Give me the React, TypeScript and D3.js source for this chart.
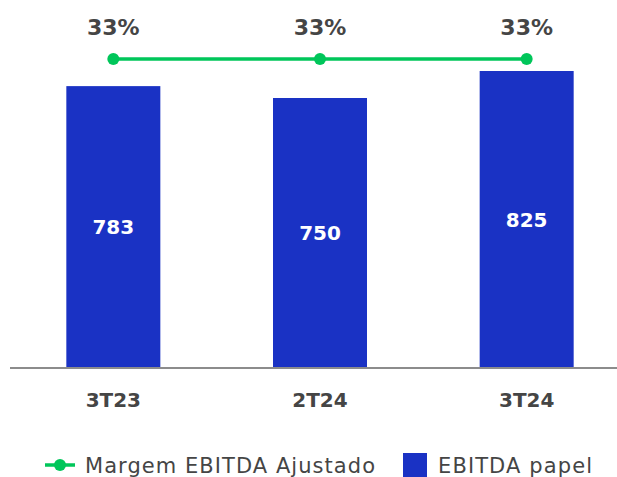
import React, { useEffect, useRef } from "react";
import * as d3 from "d3";

const categories = ["3T23", "2T24", "3T24"];
const ebitdaValues = [783, 750, 825];
const marginValues = [33, 33, 33];
const legendLabels = ["Margem EBITDA Ajustado", "EBITDA papel"];

const BAR_COLOR = "#1a32c4";
const LINE_COLOR = "#00c65a";
const TEXT_COLOR = "#454545";
const FONT = "'DejaVu Sans', sans-serif";

export default function App() {
  const ref = useRef<SVGSVGElement>(null);

  useEffect(() => {
    const width = 617,
      height = 477,
      baseline = 368;

    const svg = d3.select(ref.current);
    svg.selectAll("*").remove();

    const x = d3.scalePoint<string>().domain(categories).range([10, 630]).padding(0.5);
    const barWidth = 94;

    const y = d3.scaleLinear().domain([0, 825]).range([baseline, 71]);
    const yLine = d3.scaleLinear().domain([0, 33]).range([baseline, 59]);

    // bars
    svg
      .selectAll("rect.bar")
      .data(ebitdaValues)
      .enter()
      .append("rect")
      .attr("class", "bar")
      .attr("x", (d, i) => x(categories[i])! - barWidth / 2)
      .attr("y", (d) => y(d))
      .attr("width", barWidth)
      .attr("height", (d) => baseline - y(d))
      .attr("fill", BAR_COLOR);

    // value labels inside bars
    svg
      .selectAll("text.val")
      .data(ebitdaValues)
      .enter()
      .append("text")
      .attr("x", (d, i) => x(categories[i])!)
      .attr("y", (d) => (y(d) + baseline) / 2)
      .attr("dy", "0.36em")
      .attr("text-anchor", "middle")
      .attr("fill", "#fff")
      .attr("font-family", FONT)
      .attr("font-weight", 700)
      .attr("font-size", 20)
      .text((d) => d);

    // axis line
    svg
      .append("line")
      .attr("x1", 10)
      .attr("x2", width)
      .attr("y1", baseline)
      .attr("y2", baseline)
      .attr("stroke", "#8c8c8c")
      .attr("stroke-width", 2);

    // category labels
    svg
      .selectAll("text.cat")
      .data(categories)
      .enter()
      .append("text")
      .attr("x", (d) => x(d)!)
      .attr("y", 407)
      .attr("text-anchor", "middle")
      .attr("fill", TEXT_COLOR)
      .attr("font-family", FONT)
      .attr("font-weight", 700)
      .attr("font-size", 20)
      .text((d) => d);

    // margin line
    const line = d3
      .line<number>()
      .x((d, i) => x(categories[i])!)
      .y((d) => yLine(d));

    svg
      .append("path")
      .attr("d", line(marginValues))
      .attr("fill", "none")
      .attr("stroke", LINE_COLOR)
      .attr("stroke-width", 3.5);

    svg
      .selectAll("circle.pt")
      .data(marginValues)
      .enter()
      .append("circle")
      .attr("cx", (d, i) => x(categories[i])!)
      .attr("cy", (d) => yLine(d))
      .attr("r", 6)
      .attr("fill", LINE_COLOR);

    svg
      .selectAll("text.pct")
      .data(marginValues)
      .enter()
      .append("text")
      .attr("x", (d, i) => x(categories[i])!)
      .attr("y", (d) => yLine(d) - 24)
      .attr("text-anchor", "middle")
      .attr("fill", TEXT_COLOR)
      .attr("font-family", FONT)
      .attr("font-weight", 700)
      .attr("font-size", 22)
      .text((d) => d + "%");

    // legend
    const lg = svg.append("g").attr("transform", "translate(0, 465)");
    lg.append("line")
      .attr("x1", 45)
      .attr("x2", 75)
      .attr("stroke", LINE_COLOR)
      .attr("stroke-width", 3.5);
    lg.append("circle").attr("cx", 60).attr("r", 6).attr("fill", LINE_COLOR);
    lg.append("text")
      .attr("x", 85)
      .attr("dy", "0.36em")
      .attr("fill", TEXT_COLOR)
      .attr("font-family", FONT)
      .attr("font-size", 21)
      .attr("textLength", 290)
      .attr("lengthAdjust", "spacing")
      .text(legendLabels[0]);
    lg.append("rect")
      .attr("x", 403)
      .attr("y", -12)
      .attr("width", 24)
      .attr("height", 24)
      .attr("fill", BAR_COLOR);
    lg.append("text")
      .attr("x", 438)
      .attr("dy", "0.36em")
      .attr("fill", TEXT_COLOR)
      .attr("font-family", FONT)
      .attr("font-size", 21)
      .attr("textLength", 154)
      .attr("lengthAdjust", "spacing")
      .text(legendLabels[1]);

    svg.attr("width", width).attr("height", height);
  }, []);

  return (
    <svg
      ref={ref}
      width={617}
      height={477}
      style={{ position: "absolute", left: 0, top: 0, background: "#fff" }}
    />
  );
}
